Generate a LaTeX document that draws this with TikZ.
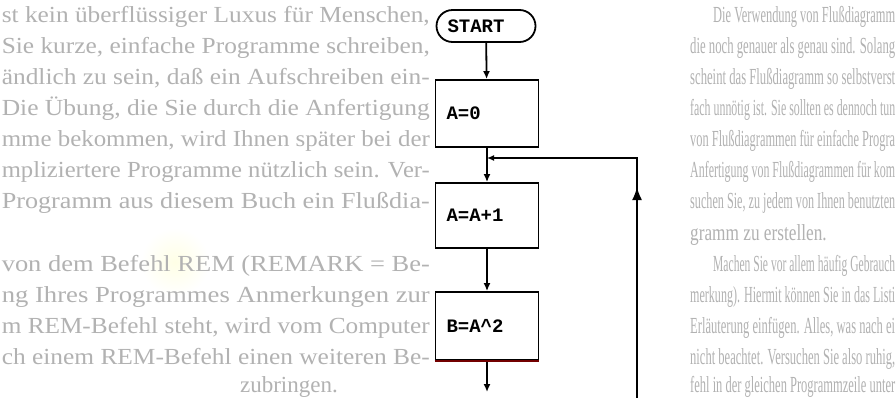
\documentclass[tikz,border=0pt]{standalone}
\usepackage{fontspec}
\usepackage{graphicx}
\setmainfont{Liberation Serif}
\newfontfamily\flowfont{Liberation Mono}
\usetikzlibrary{arrows.meta,decorations.markings}
\newcommand{\lft}[1]{\resizebox{428pt}{\height}{#1}}
\newcommand{\rgt}[1]{\resizebox{205pt}{\height}{#1}}
\newcommand{\rgtin}[1]{\resizebox{182pt}{\height}{#1}}
\begin{document}
\begin{tikzpicture}[x=1pt,y=-1pt,
  bg/.style={text=black!30, inner sep=0pt, font=\fontsize{23}{31}\selectfont},
  proc/.style={draw, line width=1.8pt, fill=white, minimum height=#1, text width=81pt,
    inner xsep=11pt, inner ysep=0pt, align=left,
    font=\flowfont\bfseries\fontsize{19}{22}\selectfont},
  term/.style={draw, line width=1.8pt, fill=white, rounded corners=16pt, minimum height=32pt,
    text width=77pt, inner xsep=11pt, inner ysep=0pt, align=left,
    font=\flowfont\bfseries\fontsize{19}{22}\selectfont},
  arr/.style={line width=1.8pt, -{Latex[length=8pt,width=7pt]}},
  line/.style={line width=1.8pt}]
\useasboundingbox (0,0) rectangle (896,397);
\fill[white] (0,0) rectangle (896,397);
\shade[inner color=yellow!10, outer color=white] (175,262) circle (34);

% faint page text: line endings on the left
\node[bg, anchor=base east] (l1) at (430,22) {\lft{st kein überflüssiger Luxus für Menschen,}};
\node[bg, anchor=base east] (l2) at (430,53) {\lft{Sie kurze, einfache Programme schreiben,}};
\node[bg, anchor=base east] (l3) at (430,84) {\lft{ändlich zu sein, daß ein Aufschreiben ein-}};
\node[bg, anchor=base east] (l4) at (430,115) {\lft{Die Übung, die Sie durch die Anfertigung}};
\node[bg, anchor=base east] (l5) at (430,146) {\lft{mme bekommen, wird Ihnen später bei der}};
\node[bg, anchor=base east] (l6) at (430,177) {\lft{mpliziertere Programme nützlich sein. Ver-}};
\node[bg, anchor=base east] (l7) at (430,208) {\lft{Programm aus diesem Buch ein Flußdia-}};
\node[bg, anchor=base east] (l9) at (430,271) {\lft{von dem Befehl REM (REMARK = Be-}};
\node[bg, anchor=base east] (l10) at (430,302) {\lft{ng Ihres Programmes Anmerkungen zur}};
\node[bg, anchor=base east] (l11) at (430,333) {\lft{m REM-Befehl steht, wird vom Computer}};
\node[bg, anchor=base east] (l12) at (430,364) {\lft{ch einem REM-Befehl einen weiteren Be-}};
\node[bg, anchor=base east] (l13) at (338,392) {zubringen.};

% faint page text: line beginnings on the right
\node[bg, anchor=base west] (r1) at (713,22) {\rgtin{Die Verwendung von Flußdiagramm}};
\node[bg, anchor=base west] (r2) at (690,53) {\rgt{die noch genauer als genau sind. Solang}};
\node[bg, anchor=base west] (r3) at (690,84) {\rgt{scheint das Flußdiagramm so selbstverst}};
\node[bg, anchor=base west] (r4) at (690,115) {\rgt{fach unnötig ist. Sie sollten es dennoch tun}};
\node[bg, anchor=base west] (r5) at (690,146) {\rgt{von Flußdiagrammen für einfache Progra}};
\node[bg, anchor=base west] (r6) at (690,177) {\rgt{Anfertigung von Flußdiagrammen für kom}};
\node[bg, anchor=base west] (r7) at (690,208) {\rgt{suchen Sie, zu jedem von Ihnen benutzten}};
\node[bg, anchor=base west] (r8) at (690,240) {\scalebox{0.75}[1]{gramm zu erstellen.}};
\node[bg, anchor=base west] (r9) at (713,271) {\rgtin{Machen Sie vor allem häufig Gebrauch}};
\node[bg, anchor=base west] (r10) at (690,302) {\rgt{merkung). Hiermit können Sie in das Listi}};
\node[bg, anchor=base west] (r11) at (690,333) {\rgt{Erläuterung einfügen. Alles, was nach ei}};
\node[bg, anchor=base west] (r12) at (690,364) {\rgt{nicht beachtet. Versuchen Sie also ruhig,}};
\node[bg, anchor=base west] (r13) at (690,392) {\rgt{fehl in der gleichen Programmzeile unter}};

% flowchart
\node[term] (start) at (486,26) {START};
\node[proc=67pt] (a0) at (487,113.5) {A=0};
\node[proc=65pt] (a1) at (487,215.5) {A=A+1};
\node[proc=68pt] (b) at (487,326) {B=A\^{}2};
\coordinate (j) at (487,158);
\coordinate (loopT) at (637,158);
\coordinate (loopB) at (637,402);
\coordinate (end) at (487,392);

\draw[arr] (start) -- (a0);
\draw[arr] (a0) -- (a1);
\draw[arr] (a1) -- (b);
\draw[arr] (b) -- (end);
\draw[line, -{Latex[length=7pt,width=6pt]},
  postaction={decorate},
  decoration={markings, mark=at position 215pt with {\arrow{Latex[length=13pt,width=10pt]}}}]
  (loopB) -- (loopT) -- (j);
\draw[red!45!black, line width=1.2pt] (b.south west) -- (b.south east);
\end{tikzpicture}
\end{document}
